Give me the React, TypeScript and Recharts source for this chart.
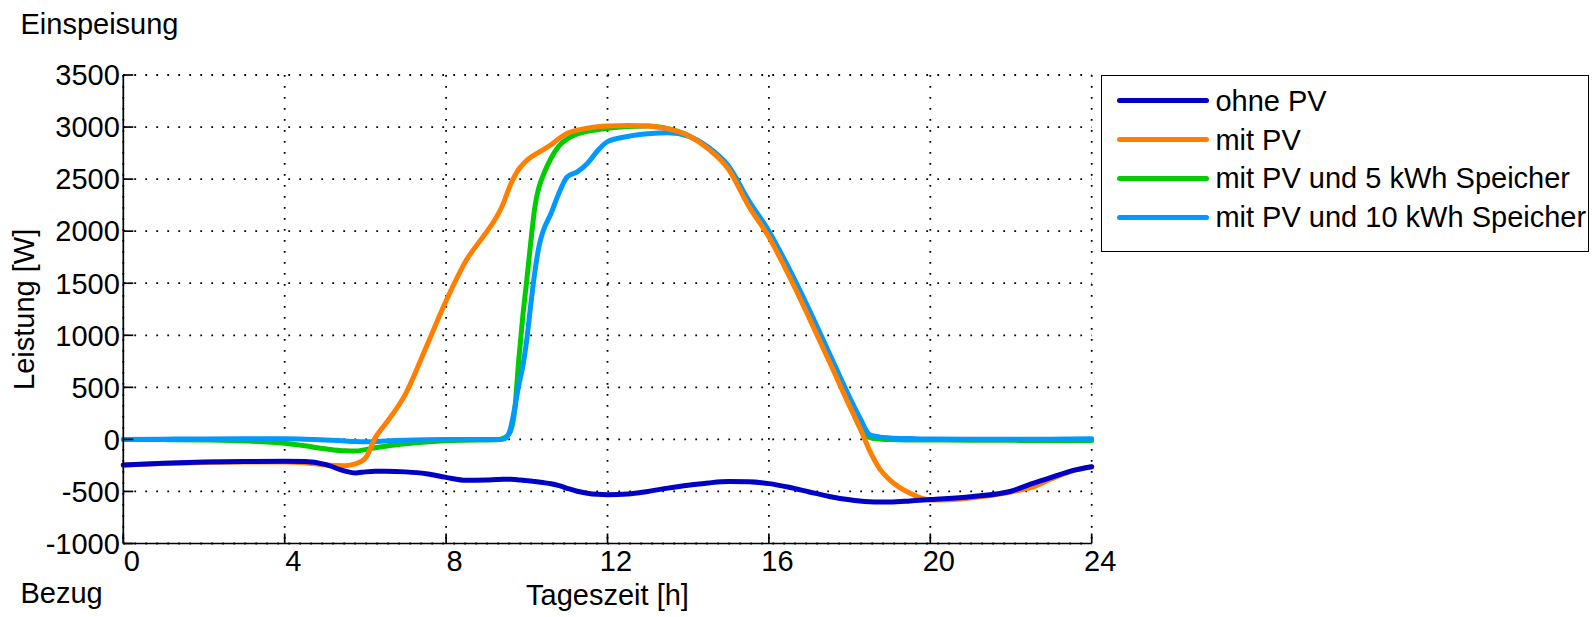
import React from 'react';
import { LineChart, Line, XAxis, YAxis, CartesianGrid, Legend } from 'recharts';

const HOURS = [0, 1, 2, 3, 4, 4.5, 5, 5.5, 5.75, 6, 6.25, 6.5, 7, 7.5, 8, 8.5, 9, 9.25, 9.4, 9.5, 9.6, 9.7, 9.8, 9.9, 10, 10.1, 10.2, 10.3, 10.4, 10.6, 10.8, 11, 11.25, 11.5, 11.75, 12, 12.5, 13, 13.5, 14, 14.5, 15, 15.5, 16, 16.5, 17, 17.5, 18, 18.25, 18.5, 18.75, 19, 19.5, 20, 21, 22, 22.5, 23, 23.5, 24];

const OHNE_PV = [-247, -230, -218, -212, -210, -213, -240, -305, -322, -312, -306, -305, -312, -330, -365, -393, -390, -386, -384, -383, -384, -386, -389, -392, -396, -400, -405, -410, -415, -426, -445, -470, -498, -517, -528, -532, -525, -500, -468, -440, -418, -405, -407, -425, -460, -505, -548, -580, -591, -598, -601, -602, -592, -578, -550, -498, -428, -365, -302, -263];

const MIT_PV = [-247, -232, -222, -216, -216, -224, -245, -252, -236, -180, 20, 150, 440, 880, 1330, 1720, 1990, 2136, 2250, 2350, 2450, 2530, 2595, 2640, 2680, 2710, 2735, 2758, 2780, 2830, 2890, 2940, 2970, 2990, 3002, 3010, 3016, 3010, 2982, 2918, 2790, 2595, 2240, 1944, 1570, 1165, 745, 320, 115, -110, -285, -391, -518, -583, -562, -505, -462, -380, -305, -265];

const MIT_PV_5KWH = [0, -2, -6, -15, -38, -62, -90, -110, -112, -98, -80, -65, -42, -25, -13, -8, -6, -4, 8, 30, 80, 280, 760, 1180, 1530, 1900, 2232, 2420, 2530, 2700, 2820, 2885, 2935, 2960, 2975, 2988, 3005, 3010, 2984, 2920, 2800, 2608, 2258, 1958, 1585, 1178, 758, 335, 120, 18, 4, -2, -5, -6, -8, -9, -10, -10, -10, -10];

const MIT_PV_10KWH = [0, 2, 4, 5, 5, 2, -5, -15, -20, -22, -20, -15, -8, -4, -2, -1, 0, 0, 2, 20, 110, 300, 520, 700, 960, 1300, 1610, 1850, 1995, 2170, 2370, 2520, 2570, 2650, 2770, 2860, 2910, 2935, 2945, 2912, 2805, 2625, 2295, 2000, 1640, 1245, 825, 405, 210, 45, 22, 14, 8, 3, 2, 2, 2, 2, 3, 5];

const X_TICKS = [0, 4, 8, 12, 16, 20, 24];
const Y_TICKS = [-1000, -500, 0, 500, 1000, 1500, 2000, 2500, 3000, 3500];

const SERIES = [
  { key: 'ohne', name: 'ohne PV', color: '#0000c8' },
  { key: 'mit', name: 'mit PV', color: '#ff8000' },
  { key: 'p5', name: 'mit PV und 5 kWh Speicher', color: '#00cc00' },
  { key: 'p10', name: 'mit PV und 10 kWh Speicher', color: '#0099ff' },
];
const DRAW_ORDER = ['p5', 'p10', 'mit', 'ohne'];

const data = HOURS.map((h, i) => ({
  h,
  ohne: OHNE_PV[i],
  mit: MIT_PV[i],
  p5: MIT_PV_5KWH[i],
  p10: MIT_PV_10KWH[i],
}));

const FONT = "Arial, 'Liberation Sans', Helvetica, sans-serif";
const FS = 29;

const XTick = (props: any) => {
  const { x, y, payload } = props;
  return (
    <text x={x + 8.5} y={y + 27.5} textAnchor="middle" fontSize={FS} fontFamily={FONT} fill="#000">
      {payload.value}
    </text>
  );
};

const YTick = (props: any) => {
  const { x, y, payload } = props;
  return (
    <text x={x} y={y + 10.3} textAnchor="end" fontSize={FS} fontFamily={FONT} fill="#000">
      {payload.value}
    </text>
  );
};

const NoTick = () => <g />;

const renderLegend = () => (
  <div
    style={{
      boxSizing: 'border-box',
      width: 488,
      height: 177,
      border: '1.6px solid #000',
      background: '#fff',
      position: 'relative',
      fontFamily: FONT,
    }}
  >
    {SERIES.map((s, i) => (
      <div
        key={s.key}
        style={{
          position: 'absolute',
          left: 0,
          top: 4.6 + 38.9 * i,
          height: 40,
          display: 'flex',
          alignItems: 'center',
        }}
      >
        <div style={{ marginLeft: 15.4, width: 92, height: 5, borderRadius: 2.5, background: s.color }} />
        <span style={{ marginLeft: 6, fontSize: FS, color: '#000', lineHeight: '40px', whiteSpace: 'nowrap' }}>
          {s.name}
        </span>
      </div>
    ))}
  </div>
);

const axisStroke = { stroke: '#000', strokeWidth: 1.7 };

export default function App() {
  return (
    <div style={{ position: 'absolute', left: 0, top: 0, width: 1596, height: 617, background: '#fff' }}>
      <LineChart width={1596} height={617} data={data} margin={{ top: 75, right: 504.3, bottom: 0, left: 0 }}>
        <CartesianGrid stroke="#000" strokeWidth={1.8} strokeDasharray="1.8 9.2" />
        <XAxis
          dataKey="h"
          type="number"
          domain={[0, 24]}
          ticks={X_TICKS}
          interval={0}
          height={73.5}
          tickSize={-10}
          tickMargin={10}
          tick={<XTick />}
          axisLine={axisStroke}
          tickLine={axisStroke}
        />
        <XAxis
          xAxisId="top"
          orientation="top"
          dataKey="h"
          type="number"
          domain={[0, 24]}
          ticks={X_TICKS}
          interval={0}
          height={0}
          tickSize={-10}
          tick={<NoTick />}
          axisLine={axisStroke}
          tickLine={axisStroke}
        />
        <YAxis
          type="number"
          domain={[-1000, 3500]}
          ticks={Y_TICKS}
          interval={0}
          width={123.3}
          tickSize={-10}
          tickMargin={13.5}
          tick={<YTick />}
          axisLine={axisStroke}
          tickLine={axisStroke}
        />
        <YAxis
          yAxisId="right"
          orientation="right"
          type="number"
          domain={[-1000, 3500]}
          ticks={Y_TICKS}
          interval={0}
          width={0}
          tickSize={-10}
          tick={<NoTick />}
          axisLine={axisStroke}
          tickLine={axisStroke}
        />
        {DRAW_ORDER.map((k) => {
          const s = SERIES.find((x) => x.key === k)!;
          return (
            <Line
              key={k}
              type="monotone"
              dataKey={k}
              name={s.name}
              stroke={s.color}
              strokeWidth={5}
              strokeLinejoin="round"
              strokeLinecap="round"
              dot={false}
              activeDot={false}
              isAnimationActive={false}
            />
          );
        })}
        <Legend
          content={renderLegend}
          layout="vertical"
          align="center"
          verticalAlign="middle"
          wrapperStyle={{ left: 1101, top: 75, width: 488, height: 177 }}
        />
        <text x={20.5} y={34} fontSize={FS} fontFamily={FONT} fill="#000">Einspeisung</text>
        <text x={20.5} y={603} fontSize={FS} fontFamily={FONT} fill="#000">Bezug</text>
        <text x={607.5} y={605} textAnchor="middle" fontSize={FS} fontFamily={FONT} fill="#000">Tageszeit [h]</text>
        <text transform="translate(34,309.3) rotate(-90)" textAnchor="middle" fontSize={FS} fontFamily={FONT} fill="#000">
          Leistung [W]
        </text>
      </LineChart>
    </div>
  );
}
